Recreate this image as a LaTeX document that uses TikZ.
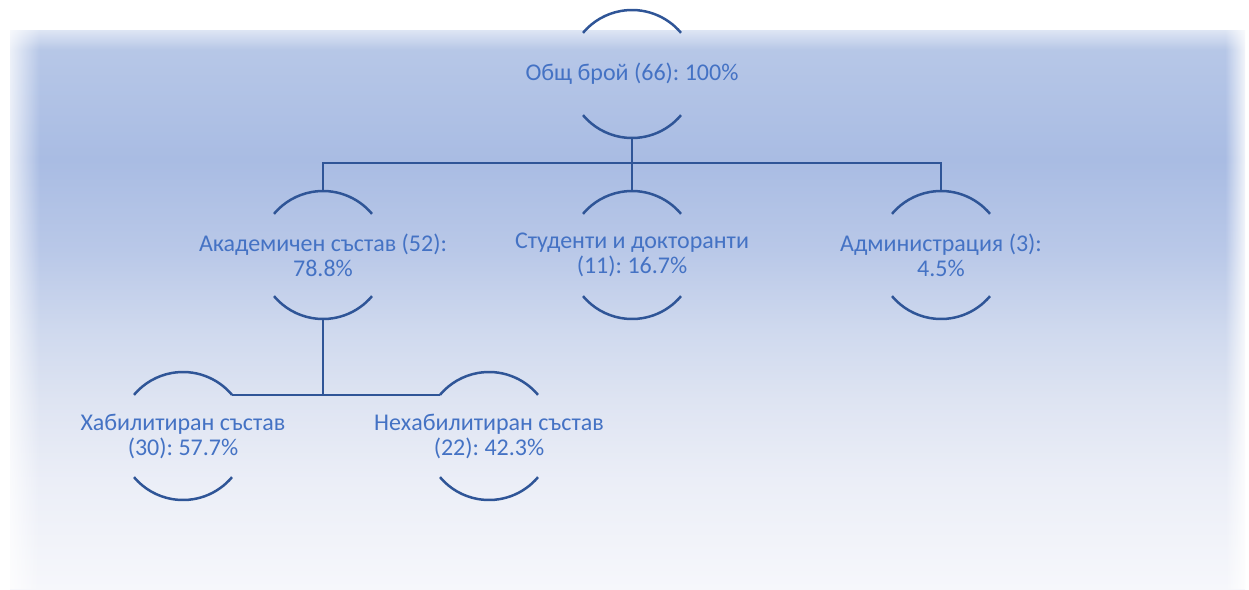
\documentclass[tikz,border=0pt]{standalone}
\usepackage{fontspec}
\setmainfont{Carlito}
\usepackage{xcolor}
\usetikzlibrary{fadings}

\definecolor{textblue}{RGB}{68,114,196}
\definecolor{lineblue}{RGB}{47,85,151}
\definecolor{bg0}{RGB}{185,201,232}
\definecolor{bg1}{RGB}{169,188,227}
\definecolor{bg2}{RGB}{185,200,232}
\definecolor{bg3}{RGB}{207,217,238}
\definecolor{bg4}{RGB}{222,228,242}
\definecolor{bg5}{RGB}{235,238,247}
\definecolor{bg6}{RGB}{246,247,251}
\pgfdeclareverticalshading{bgfade}{100bp}{color(0bp)=(bg6); color(25bp)=(bg6); color(34.75bp)=(bg5); color(41.9bp)=(bg4); color(48.17bp)=(bg3); color(55.32bp)=(bg2); color(63.37bp)=(bg1); color(75bp)=(bg0); color(100bp)=(bg0)}

\begin{document}
\frenchspacing
\begin{tikzpicture}[x=1pt, y=1pt,
	label/.style = {text=textblue, align=center, font=\fontsize{24}{25}\selectfont, inner sep=0pt},
	ring/.style = {draw=lineblue, line width=2.5pt},
	link/.style = {draw=lineblue, line width=2.2pt}]
	\useasboundingbox (0,0) rectangle (1249,-589);
	
	% background
	\shade[shading=bgfade] (10,-30) rectangle (1245,-589);
	\fill[white, path fading=south] (0,-12) rectangle (1249,-50);
	\fill[white, path fading=east] (0,0) rectangle (40,-589);
	\fill[white, path fading=west] (1225,0) rectangle (1249,-589);
	
	% nodes
	\node[label] (total) at (632,-74) {Общ брой (66): 100\%};
	\node[label] (acad) at (323,-255) {Академичен състав (52):\\78.8\%};
	\node[label] (stud) at (632,-255) {Студенти и докторанти\\(11): 16.7\%};
	\node[label] (admin) at (941,-255) {Администрация (3):\\4.5\%};
	\node[label] (hab) at (183,-436) {Хабилитиран състав\\(30): 57.7\%};
	\node[label] (nehab) at (489,-436) {Нехабилитиран състав\\(22): 42.3\%};
	
	% arcs
	\foreach \n in {total, acad, stud, admin, hab, nehab}{
		\coordinate (\n-t) at ([yshift=64pt]\n.center);
		\coordinate (\n-b) at ([yshift=-64pt]\n.center);
		\coordinate (\n-tr) at ([shift={(40:64pt)}]\n.center);
		\coordinate (\n-tl) at ([shift={(140:64pt)}]\n.center);
		\coordinate (\n-br) at ([shift={(320:64pt)}]\n.center);
		\draw[ring] (\n-tr) arc (40:140:64pt);
		\draw[ring] (\n-br) arc (320:220:64pt);
	}
	
	% connectors
	\draw[link] (total-b) -- ++(0,-25) -| (acad-t);
	\draw[link] (total-b) -- ++(0,-25) -| (admin-t);
	\draw[link] (total-b) -- (stud-t);
	\draw[link] (acad-b) |- (hab-tr);
	\draw[link] (acad-b) |- (nehab-tl);
	
\end{tikzpicture}
\end{document}
